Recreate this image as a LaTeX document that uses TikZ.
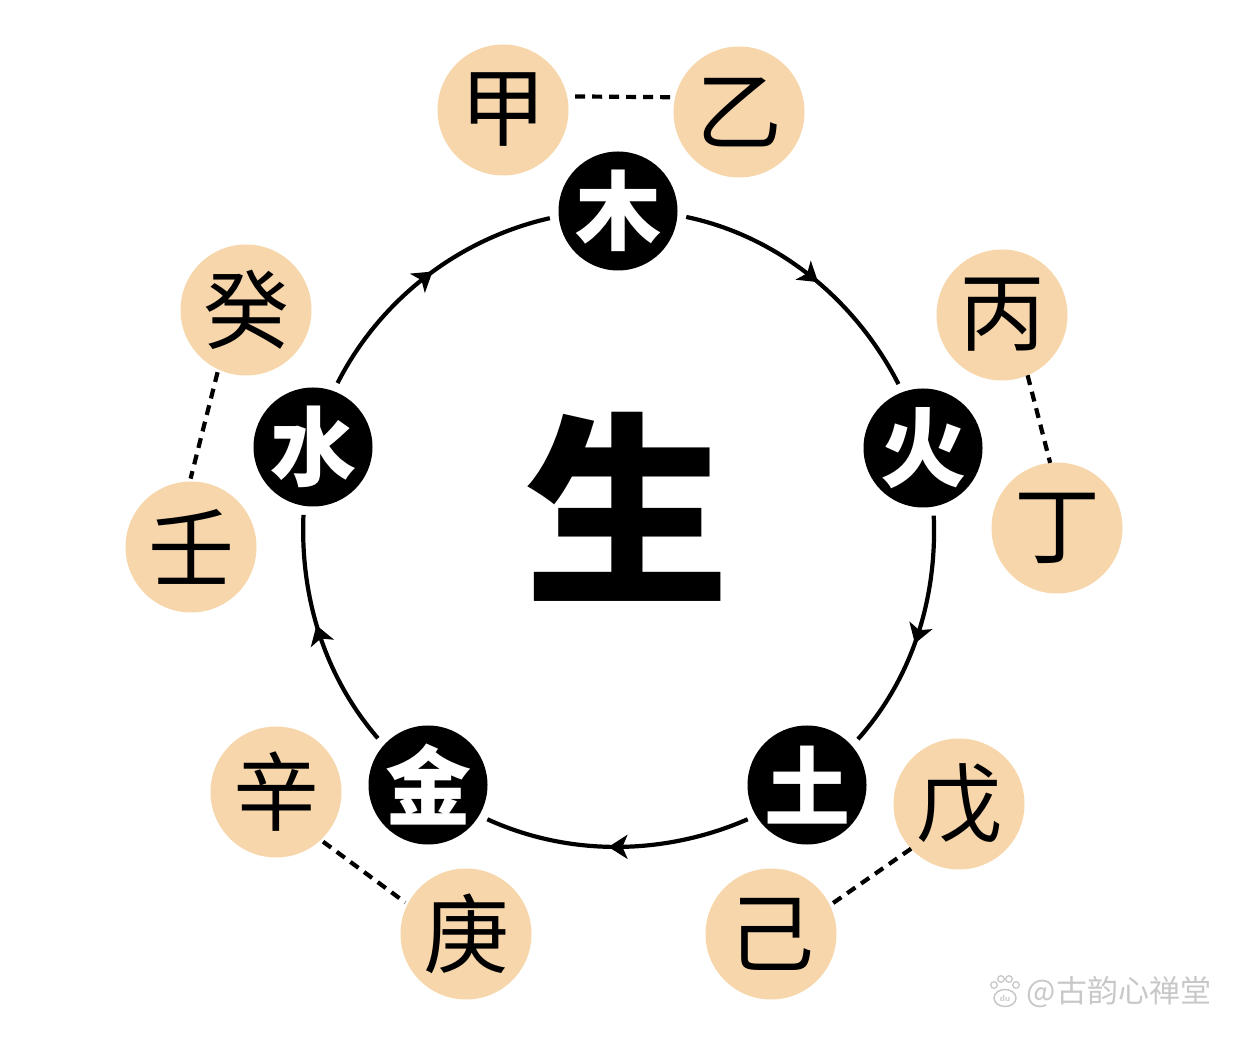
\documentclass[tikz,border=0pt]{standalone}
\usepackage{fontspec}
\newfontfamily\cjk{Noto Sans CJK SC}
\usetikzlibrary{arrows.meta,decorations.markings,shapes.geometric}
\definecolor{peach}{RGB}{246,214,170}
\definecolor{wm}{RGB}{200,200,200}
\begin{document}
\begin{tikzpicture}[x=1pt,y=1pt,
  elem/.style={circle,fill=black,minimum size=119pt,inner sep=0pt,outer sep=9pt,text=white,font=\cjk\bfseries\fontsize{86}{86}\selectfont},
  stembox/.style={circle,fill=peach,minimum size=131pt,inner sep=0pt,outer sep=0pt,font=\cjk\fontsize{86}{86}\selectfont},
  ring/.style={line width=4.2pt,postaction={decorate},decoration={markings,mark=at position 0.5 with {\arrow[xshift=9pt]{Stealth[length=19pt,width=24pt,inset=5pt]}}}},
  pair/.style={line width=4.2pt,dash pattern=on 10pt off 7pt,shorten <=3pt,shorten >=3pt}]
\useasboundingbox (0,0) rectangle (1241,1036);
% heavenly stems
\node[stembox] (jia)  at (503,926) {甲};
\node[stembox] (yi)   at (739,924) {乙};
\node[stembox] (bing) at (1002,721) {丙};
\node[stembox] (ding) at (1057,508) {丁};
\node[stembox] (wu)   at (959,232) {戊};
\node[stembox] (ji)   at (771,102) {己};
\node[stembox] (geng) at (466,102) {庚};
\node[stembox] (xin)  at (276,244) {辛};
\node[stembox] (ren)  at (191,489) {壬};
\node[stembox] (gui)  at (246,726) {癸};
% five elements
\node[elem] (mu)   at (618,825) {木};
\node[elem] (huo)  at (923,588) {火};
\node[elem] (tu)   at (807,251) {土};
\node[elem] (jin)  at (428,251) {金};
\node[elem] (shui) at (313,589) {水};
% centre
\node[font=\cjk\bfseries\fontsize{205}{205}\selectfont] (sheng) at (627,529) {生};
% generating cycle
\foreach \a/\pa/\b/\pb in {mu/90.5/huo/14.8, huo/14.8/tu/-54.1, tu/-54.1/jin/-126.9, jin/-126.9/shui/-194.7, shui/165.3/mu/90.5}{
  \pgfmathsetmacro\sa{\pa-96.2}
  \pgfmathsetmacro\oa{\pa-102.3}
  \pgfmathsetmacro\eb{\pb+96.2}
  \pgfmathsetmacro\ib{\pb+102.3}
  \draw[ring] (\a.\sa) to[out=\oa,in=\ib,looseness=0.89] (\b.\eb);
}
% stem pairs
\draw[pair,shorten <=8pt,shorten >=0pt] (jia.12) -- (yi.167);
\draw[pair,shorten <=0pt,shorten >=0pt] (bing.-67) -- (ding.96);
\draw[pair] (xin.-47) -- (geng.153);
\draw[pair,shorten <=0pt,shorten >=0pt] (wu.223) -- (ji.26);
\draw[pair] (gui.245) -- (ren.91);
% watermark
\node[font=\cjk\fontsize{31}{31}\selectfont,text=wm] (mark) at (1119,44) {@古韵心禅堂};
\node[draw=wm,line width=1.5pt,ellipse,minimum width=22pt,minimum height=17pt,inner sep=0pt,font=\sffamily\bfseries\fontsize{9}{9}\selectfont,text=wm] (paw) at (1005,38) {du};
\foreach \px/\py in {994/51, 1001/57, 1009/57, 1016/51}{
  \draw[wm,line width=1.3pt] (\px,\py) circle (3.3pt);
}
\end{tikzpicture}
\end{document}
